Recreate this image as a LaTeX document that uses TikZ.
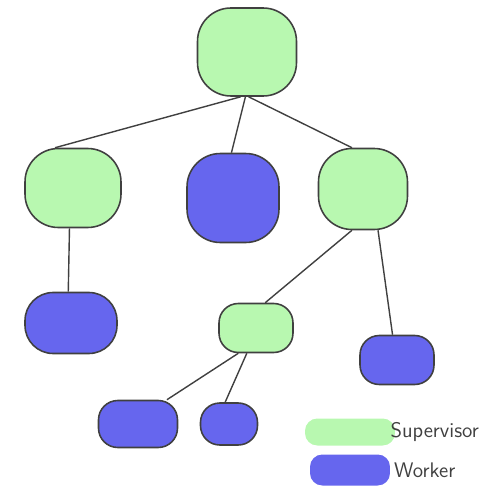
\documentclass[tikz,border=0pt]{standalone}
\usetikzlibrary{positioning}
\definecolor{supgreen}{HTML}{B8F8B0}
\definecolor{workblue}{HTML}{6666EE}
\definecolor{pencil}{HTML}{404040}
\tikzset{
    blob/.style={rectangle, rounded corners=19pt, draw=pencil, line width=0.9pt, inner sep=0pt},
    small blob/.style={rounded corners=11pt},
    supervisor/.style={blob, fill=supgreen},
    worker/.style={blob, fill=workblue},
    link/.style={draw=pencil, line width=0.8pt},
    swatch/.style={rectangle, rounded corners=7pt, inner sep=0pt, draw=none},
    legtext/.style={text=pencil, font=\sffamily\large},
}

\begin{document}
\begin{tikzpicture}[x=0.02cm, y=-0.02cm]
\useasboundingbox (0,0) rectangle (500,500);
\node[supervisor, minimum width=1.98cm, minimum height=1.76cm] (boss) at (247,52) {};
\node[supervisor, minimum width=1.92cm, minimum height=1.58cm] (lsup) at (73,188) {};
\node[worker, minimum width=1.84cm, minimum height=1.78cm] (mwork) at (233,198) {};
\node[supervisor, minimum width=1.78cm, minimum height=1.62cm] (rsup) at (363,189) {};
\node[worker, rounded corners=16pt, minimum width=1.84cm, minimum height=1.22cm] (lwork) at (71,323) {};
\node[supervisor, small blob, minimum width=1.48cm, minimum height=0.98cm] (msup) at (256,328) {};
\node[worker, small blob, minimum width=1.48cm, minimum height=0.98cm] (rwork) at (397,360) {};
\node[worker, small blob, minimum width=1.58cm, minimum height=0.94cm] (llwork) at (138,424) {};
\node[worker, small blob, minimum width=1.14cm, minimum height=0.84cm] (lrwork) at (229,424) {};

\draw[link] (boss.262) -- (lsup.114);
\draw[link] (boss.268) -- (mwork.92);
\draw[link] (boss.272) -- (rsup.105);
\draw[link] (lsup.265) -- (lwork.95);
\draw[link] (rsup.255) -- (msup.70);
\draw[link] (rsup.290) -- (rwork.100);
\draw[link] (msup.235) -- (llwork.40);
\draw[link] (msup.250) -- (lrwork.100);

\node[swatch, fill=supgreen, minimum width=1.8cm, minimum height=0.54cm] (legsup) at (350,432) {};
\node[swatch, fill=workblue, minimum width=1.6cm, minimum height=0.62cm] (legwork) at (350,470) {};
\node[legtext, right=-0.22cm of legsup] (suptext) {Supervisor};
\node[legtext, right=-0.05cm of legwork] (worktext) {Worker};
\end{tikzpicture}
\end{document}
